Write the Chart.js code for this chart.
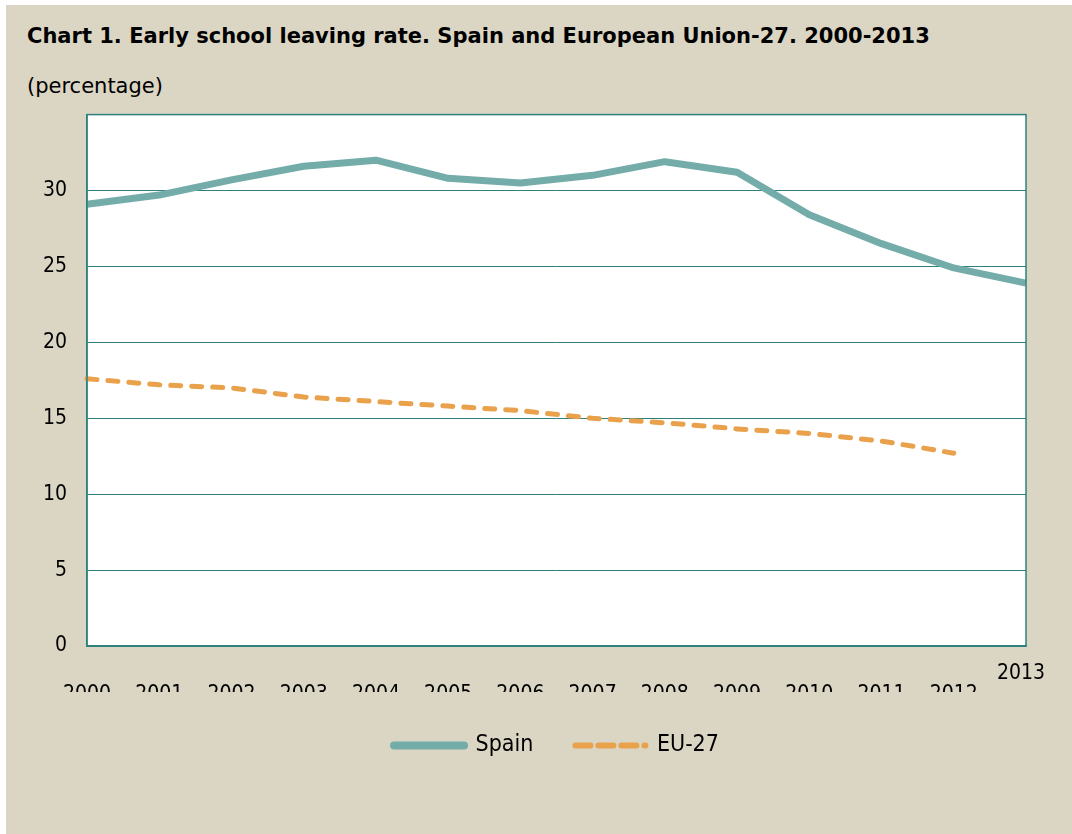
<!DOCTYPE html>
<html>
<head>
<meta charset="utf-8">
<script src="https://cdn.jsdelivr.net/npm/chart.js@4.4.1/dist/chart.umd.min.js"></script>
<style>
  html, body { margin: 0; padding: 0; background: #ffffff; width: 1072px; height: 834px; overflow: hidden; }
  #panel { position: absolute; left: 6px; top: 5px; width: 1066px; height: 829px; background: #dbd6c4; }
  .t { position: absolute; font-family: "DejaVu Sans", sans-serif; color: #000; white-space: nowrap; }
  #title { left: 21px; top: 19px; font-size: 21px; font-weight: bold; }
  #sub { left: 21px; top: 69px; font-size: 21px; }
  #wrap { position: absolute; left: 0px; top: 77px; width: 1066px; height: 685px; }
</style>
</head>
<body>
<div id="panel">
  <div id="title" class="t">Chart 1. Early school leaving rate. Spain and European Union-27. 2000-2013</div>
  <div id="sub" class="t">(percentage)</div>
  <div id="wrap"><canvas id="c" width="1066" height="685"></canvas></div>
</div>
<script>
const years = ["2000","2001","2002","2003","2004","2005","2006","2007","2008","2009","2010","2011","2012","2013"];
const spain = [29.1, 29.7, 30.7, 31.6, 32.0, 30.8, 30.5, 31.0, 31.9, 31.2, 28.4, 26.5, 24.9, 23.9];
const eu27  = [17.6, 17.2, 17.0, 16.4, 16.1, 15.8, 15.5, 15.0, 14.7, 14.3, 14.0, 13.5, 12.7, null];
const yTicks = [0, 5, 10, 15, 20, 25, 30, 35];

const FONT = "'DejaVu Sans Condensed', 'DejaVu Sans', sans-serif";
const TEAL = '#2e807c';
const LAST = years.length - 1;

const plotFrame = {
  id: 'plotFrame',
  beforeDraw(chart) {
    const a = chart.chartArea, ctx = chart.ctx;
    ctx.save();
    ctx.fillStyle = '#ffffff';
    ctx.fillRect(a.left, a.top, a.right - a.left, a.bottom - a.top);
    ctx.restore();
  },
  afterDatasetsDraw(chart) {
    const a = chart.chartArea, ctx = chart.ctx;
    ctx.save();
    ctx.strokeStyle = TEAL;
    ctx.lineWidth = 1.5;
    ctx.strokeRect(a.left, a.top, a.right - a.left, a.bottom - a.top);
    // the last category label sits higher than the others in the original
    const xs = chart.scales.x;
    ctx.fillStyle = '#000';
    ctx.font = "21px " + FONT;
    ctx.textAlign = 'center';
    ctx.textBaseline = 'middle';
    ctx.fillText(years[LAST], xs.getPixelForValue(LAST) - 5, a.bottom + 28);
    ctx.restore();
  }
};

new Chart(document.getElementById('c'), {
  type: 'line',
  data: {
    labels: years,
    datasets: [
      { label: 'Spain', data: spain, borderColor: '#74acaa', backgroundColor: '#74acaa',
        borderWidth: 7, pointRadius: 0, tension: 0, borderCapStyle: 'butt', borderJoinStyle: 'round' },
      { label: 'EU-27', data: eu27, borderColor: '#e9a14c', backgroundColor: '#e9a14c',
        borderWidth: 5, borderDash: [10, 11], pointRadius: 0, tension: 0, borderCapStyle: 'round', spanGaps: false }
    ]
  },
  plugins: [plotFrame],
  options: {
    responsive: false,
    animation: false,
    clip: false,
    layout: { padding: { top: 13, right: 46, left: 0, bottom: 0 } },
    plugins: {
      title: { display: false },
      tooltip: { enabled: false },
      legend: {
        display: true,
        position: 'bottom',
        fullSize: false,
        labels: {
          font: { family: FONT, size: 23 },
          color: '#000',
          usePointStyle: true,
          pointStyle: 'line',
          pointStyleWidth: 70,
          boxHeight: 10,
          padding: 42,
          generateLabels(chart) {
            return chart.data.datasets.map((ds, i) => ({
              text: ds.label,
              fillStyle: ds.borderColor,
              strokeStyle: ds.borderColor,
              lineWidth: ds.borderWidth + 1,
              lineDash: ds.borderDash ? [15, 8] : [],
              lineCap: 'round',
              pointStyle: 'line',
              hidden: false,
              datasetIndex: i,
              fontColor: '#000'
            }));
          }
        }
      }
    },
    scales: {
      x: {
        type: 'category',
        offset: false,
        grid: { display: false, drawTicks: false },
        border: { display: true, color: TEAL, width: 1.5 },
        ticks: {
          font: { family: FONT, size: 21 }, color: '#000', padding: 36, maxRotation: 0, autoSkip: false,
          callback: function (v, i) { return i === LAST ? '' : this.getLabelForValue(v); }
        },
        afterFit(scale) { scale.height = 46; }
      },
      y: {
        min: 0, max: 35,
        afterBuildTicks(scale) { scale.ticks = yTicks.map(v => ({ value: v })); },
        grid: { color: TEAL, lineWidth: 1, drawTicks: false },
        border: { display: true, color: TEAL, width: 1.5 },
        ticks: {
          font: { family: FONT, size: 21 }, color: '#000', padding: 20,
          callback: (v) => (v === 35 ? '' : String(v))
        },
        afterFit(scale) { scale.width = 81; }
      }
    }
  }
});
</script>
</body>
</html>
